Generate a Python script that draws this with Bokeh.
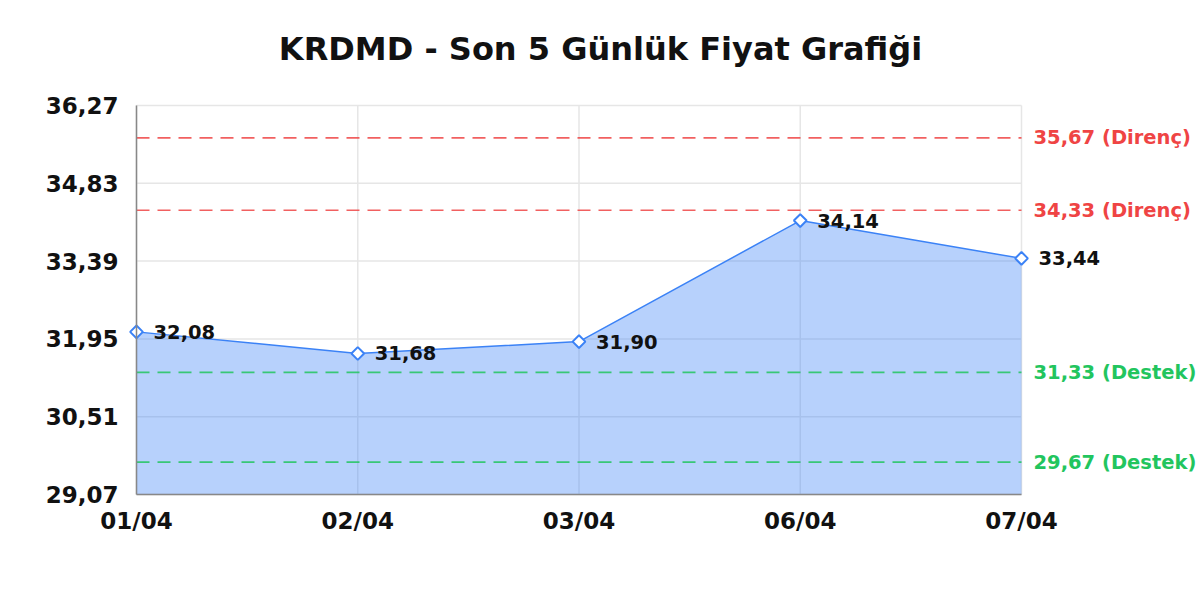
import math
from bokeh.plotting import figure
from bokeh.models import ColumnDataSource, FixedTicker, CustomJSTickFormatter, Range1d
from bokeh.embed import file_html
from bokeh.resources import INLINE
from bokeh.core.properties import value

# data
title = "KRDMD - Son 5 Günlük Fiyat Grafiği"
dates = ["01/04", "02/04", "03/04", "06/04", "07/04"]
prices = [32.08, 31.68, 31.90, 34.14, 33.44]
levels = [35.67, 34.33, 31.33, 29.67]
level_kind = ["Direnç", "Direnç", "Destek", "Destek"]
y_ticks = [29.07, 30.51, 31.95, 33.39, 34.83, 36.27]

FONT = "DejaVu Sans"
BLUE = "#3b82f6"
RED = "#ef4444"
GREEN = "#22c55e"
W, H = 1200, 600
# pixel box of the plotting area inside the canvas
L, R, T, B = 136, 1021, 105, 494


def fmt(v):
    return f"{v:.2f}".replace(".", ",")


xs = list(range(len(dates)))
x0, x1 = xs[0], xs[-1]
y0, y1 = y_ticks[0], y_ticks[-1]
# widen the ranges so that outside labels stay inside the (clipped) frame
sx = (R - L) / (x1 - x0)
sy = (B - T) / (y1 - y0)
xr = Range1d(x0 - L / sx, x1 + (W - R) / sx)
yr = Range1d(y0 - (H - B) / sy, y1 + T / sy)

src = ColumnDataSource(data=dict(
    x=xs, y=prices, base=[y0] * len(xs), lbl=[fmt(v) for v in prices],
))
lvl_src = ColumnDataSource(data=dict(
    y=levels, x0=[x0] * len(levels), x1=[x1] * len(levels),
    lbl=[f"{fmt(v)} ({k})" for v, k in zip(levels, level_kind)],
    color=[RED if k == "Direnç" else GREEN for k in level_kind],
))
vgrid = ColumnDataSource(data=dict(x=xs, y0=[y0] * len(xs), y1=[y1] * len(xs)))
hgrid = ColumnDataSource(data=dict(y=y_ticks, x0=[x0] * len(y_ticks), x1=[x1] * len(y_ticks)))

p = figure(width=W, height=H, output_backend="svg", toolbar_location=None, title=None,
           x_range=xr, y_range=yr, min_border=0)
p.outline_line_color = None
p.grid.visible = False

# grid limited to the data box
p.segment(x0="x", y0="y0", x1="x", y1="y1", source=vgrid, line_color="#e6e6e6", line_width=1.5)
p.segment(x0="x0", y0="y", x1="x1", y1="y", source=hgrid, line_color="#e6e6e6", line_width=1.5)

# title
p.text(x=[(xr.start + xr.end) / 2], y=[yr.end], text=[title], y_offset=48,
       text_font=value(FONT), text_font_style="bold", text_font_size="32px",
       text_align="center", text_baseline="middle", text_color="#111111")

# area + line
p.varea(x="x", y1="base", y2="y", source=src, fill_color=BLUE, fill_alpha=0.37)
p.line(x="x", y="y", source=src, line_color=BLUE, line_width=1.5)

# support / resistance levels
p.segment(x0="x0", y0="y", x1="x1", y1="y", source=lvl_src, line_color="color",
          line_width=1.6, line_dash="13 8", line_alpha=0.85)
p.text(x="x1", y="y", text="lbl", source=lvl_src, x_offset=12, text_color="color",
       text_font=value(FONT), text_font_style="bold", text_font_size="19.5px",
       text_baseline="middle", text_align="left")

# markers + value labels
p.scatter(x="x", y="y", source=src, marker="square", angle=math.pi / 4, size=9,
          fill_color="white", line_color=BLUE, line_width=2)
p.text(x="x", y="y", text="lbl", source=src, x_offset=17, y_offset=0,
       text_font=value(FONT), text_font_style="bold", text_font_size="19.5px",
       text_baseline="middle", text_align="left", text_color="#111111")

# axes placed at the data edges
p.xaxis.fixed_location = y0
p.yaxis.fixed_location = x0
p.xaxis.bounds = (x0, x1)
p.yaxis.bounds = (y0, y1)
p.xaxis.ticker = FixedTicker(ticks=xs)
p.xaxis.major_label_overrides = {i: d for i, d in enumerate(dates)}
p.yaxis.ticker = FixedTicker(ticks=y_ticks)
p.yaxis.formatter = CustomJSTickFormatter(code="return tick.toFixed(2).replace('.', ',');")
for ax in (p.xaxis[0], p.yaxis[0]):
    ax.axis_line_color = "#888888"
    ax.axis_line_width = 1.5
    ax.major_tick_line_color = None
    ax.minor_tick_line_color = None
    ax.major_label_text_font = FONT
    ax.major_label_text_font_style = "bold"
    ax.major_label_text_font_size = "23px"
    ax.major_label_text_color = "#111111"
p.xaxis.major_label_standoff = 7
p.yaxis.major_label_standoff = 12

open("out.html", "w").write(file_html(p, INLINE))
